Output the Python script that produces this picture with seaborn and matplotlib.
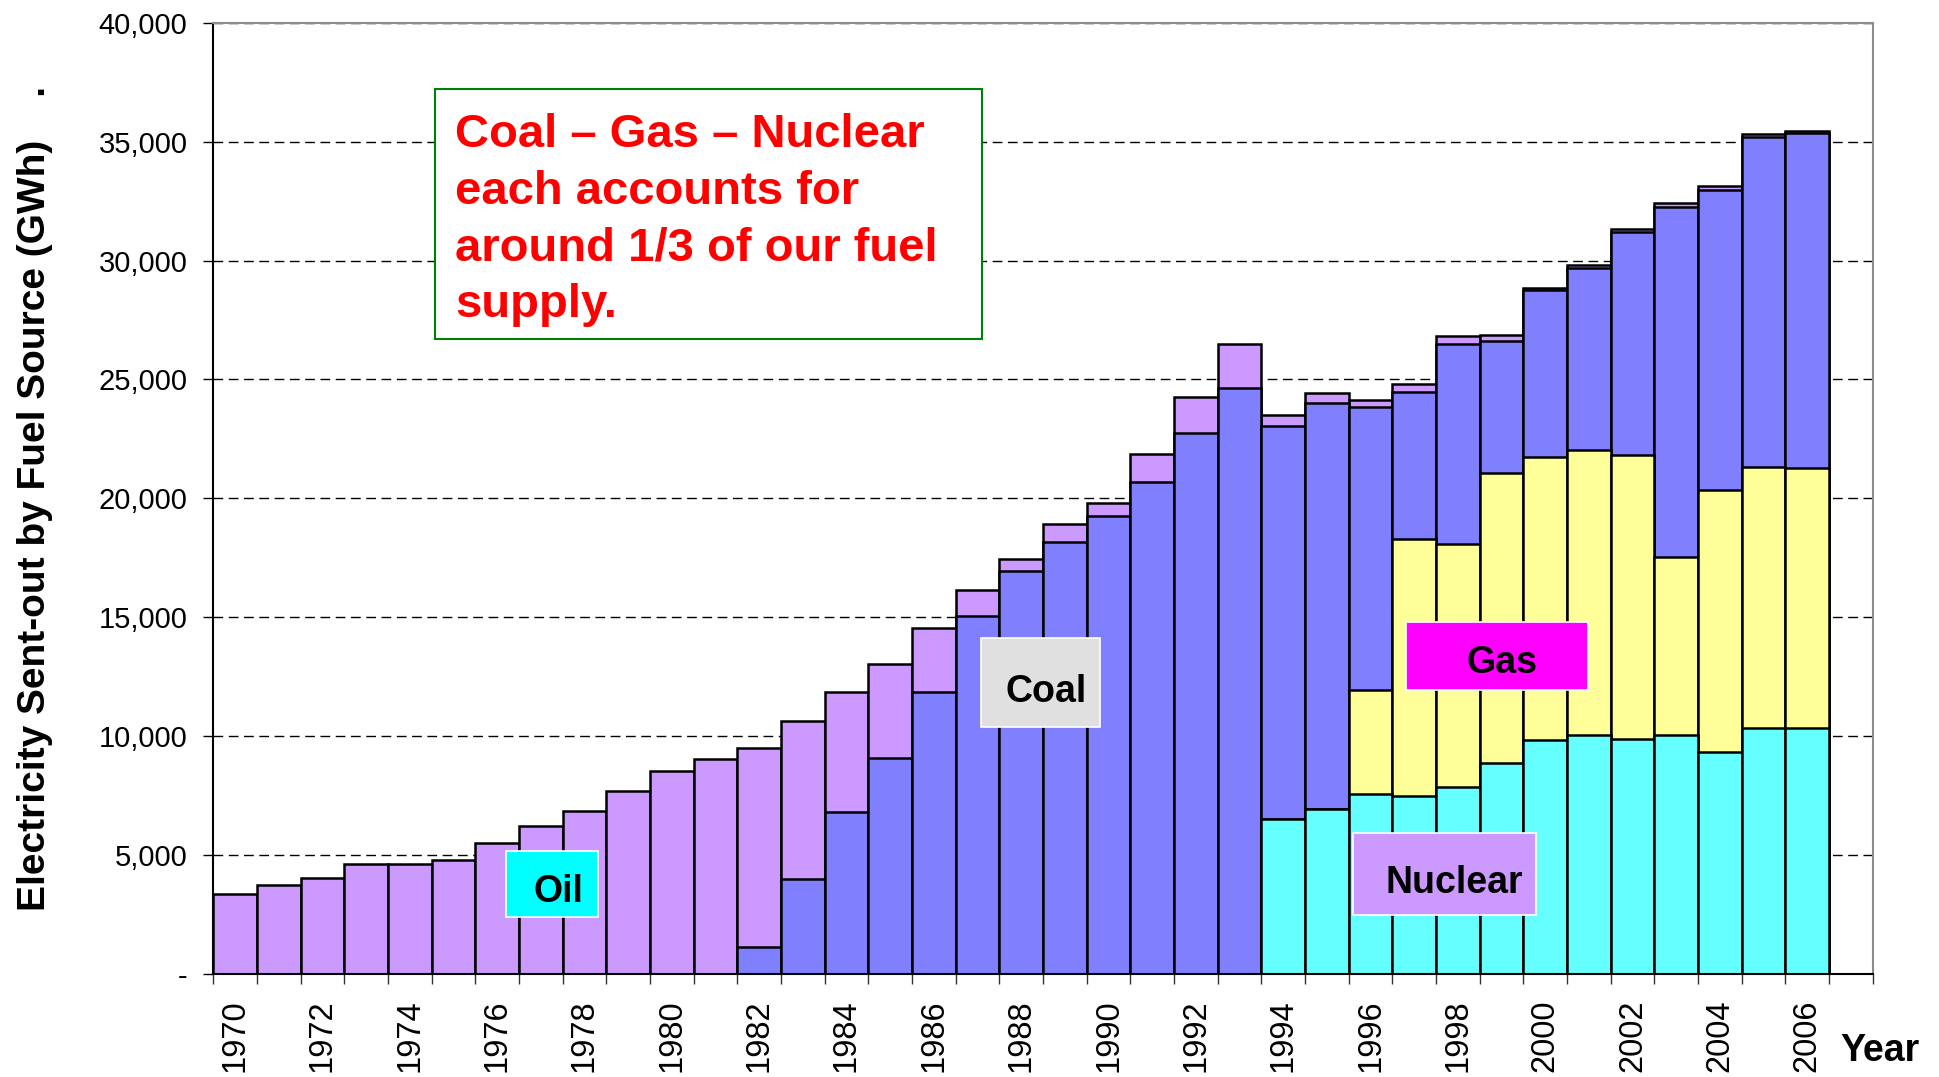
import numpy as np
import pandas as pd
import seaborn as sns
import matplotlib
matplotlib.use("Agg")
import matplotlib.pyplot as plt
from matplotlib.patches import Rectangle
from matplotlib.ticker import FuncFormatter

# electricity sent-out by fuel source (GWh)
years = list(range(1970, 2007))
nuclear = [0] * 24 + [6500, 6930, 7550, 7500, 7850, 8860, 9840, 10050, 9900, 10050, 9320, 10360, 10360]
gas = [0] * 26 + [4400, 10790, 10210, 12210, 11900, 11990, 11940, 7500, 11020, 10970, 10900]
coal = [0] * 12 + [1150, 4000, 6830, 9100, 11850, 15050, 16930, 18180, 19260, 20680, 22750, 24640,
                   16550, 17070, 11900, 6170, 8420, 5530, 7020, 7660, 9370, 14710, 12640, 13880, 14090]
oil = [3380, 3740, 4050, 4620, 4620, 4780, 5500, 6230, 6860, 7690, 8520, 9040,
       8370, 6630, 5020, 3920, 2690, 1110, 540, 730, 550, 1190, 1510, 1850,
       450, 450, 270, 340, 340, 270, 100, 100, 100, 150, 160, 110, 110]

colors = {"Nuclear": "#66FFFF", "Gas": "#FFFF99", "Coal": "#8080FF", "Oil": "#CC99FF"}

sns.set_style("white")
plt.rcParams["font.family"] = ["Liberation Sans", "DejaVu Sans"]
plt.rcParams.update({"text.color": "black", "axes.labelcolor": "black",
                     "xtick.color": "black", "ytick.color": "black"})

df = pd.DataFrame({"year": [str(y) for y in years],
                   "Nuclear": nuclear, "Gas": gas, "Coal": coal, "Oil": oil})
# cumulative heights so the stack can be drawn from the top down
df["c_nuc"] = df["Nuclear"]
df["c_gas"] = df["c_nuc"] + df["Gas"]
df["c_coal"] = df["c_gas"] + df["Coal"]
df["c_oil"] = df["c_coal"] + df["Oil"]

W, H = 1939, 1077
fig = plt.figure(figsize=(W / 100, H / 100), dpi=100)
ax = fig.add_axes([213.3 / W, 1 - 974 / H, (1872.7 - 213.3) / W, (974 - 22.7) / H])

for col, name in [("c_oil", "Oil"), ("c_coal", "Coal"), ("c_gas", "Gas"), ("c_nuc", "Nuclear")]:
    sns.barplot(data=df, x="year", y=col, order=df["year"], color=colors[name],
                saturation=1, width=1.0, edgecolor="black", linewidth=1.8, ax=ax)

ax.set_xlim(-0.5, 37.5)
ax.set_ylim(0, 40000)
ax.set_axisbelow(True)
ax.yaxis.grid(True, color="black", linestyle=(0, (7, 4)), linewidth=1)
ax.xaxis.grid(False)

ax.set_yticks(np.arange(0, 40001, 5000))
ax.yaxis.set_major_formatter(FuncFormatter(lambda v, p: "-" if v == 0 else f"{int(v):,}"))
ax.set_xticks(range(0, 37, 2))
ax.set_xticklabels([str(y) for y in years[::2]])
ax.set_xticks(np.arange(-0.5, 38, 1), minor=True)
ax.tick_params(axis="x", which="major", bottom=True, length=0, pad=18.5, labelsize=23.5,
               labelrotation=90, labelcolor="black")
ax.tick_params(axis="x", which="minor", bottom=True, length=7, width=1, color="#333333")
ax.tick_params(axis="y", which="major", left=True, length=7, width=1, color="black",
               labelsize=21, pad=11.5, labelcolor="black")

for s in ["left", "bottom"]:
    ax.spines[s].set_color("black")
    ax.spines[s].set_linewidth(1.5)
for s in ["top", "right"]:
    ax.spines[s].set_color("#8c8c8c")
    ax.spines[s].set_linewidth(1.5)

ax.set_xlabel("")
ax.set_ylabel("Electricity Sent-out by Fuel Source (GWh)    .", fontsize=28,
              fontweight="bold", color="black")
ax.yaxis.set_label_coords(-0.0966, 0.5)

fig.text(1840 / W, 1 - 1061 / H, "Year", fontsize=27, fontweight="bold",
         color="black", ha="left", va="baseline")

# call-out box
fig.add_artist(Rectangle((435 / W, 1 - 339 / H), (982 - 435) / W, (339 - 89) / H,
                         transform=fig.transFigure, facecolor="white",
                         edgecolor="#008000", linewidth=1.5))
note = ["Coal – Gas – Nuclear", "each accounts for", "around 1/3 of our fuel", "supply."]
for i, line in enumerate(note):
    fig.text(455 / W, 1 - (147 + 56.7 * i) / H, line, color="red", fontsize=34,
             fontweight="bold", ha="left", va="baseline")

# fuel labels
labels = [("Oil", "#00FFFF", (506, 851, 598, 917), (558, 902)),
          ("Coal", "#E0E0E0", (981, 638, 1100, 727), (1046, 702)),
          ("Gas", "#FF00FF", (1406, 622, 1588, 690), (1502, 673)),
          ("Nuclear", "#CC99FF", (1353, 833, 1536, 915), (1454, 893))]
for txt, fc, (x0, y0, x1, y1), (tx, ty) in labels:
    fig.add_artist(Rectangle((x0 / W, 1 - y1 / H), (x1 - x0) / W, (y1 - y0) / H,
                             transform=fig.transFigure, facecolor=fc,
                             edgecolor="white", linewidth=1.2))
    fig.text(tx / W, 1 - ty / H, txt, fontsize=27, fontweight="bold", color="black",
             ha="center", va="baseline")

fig.savefig("out.png", dpi=100)
